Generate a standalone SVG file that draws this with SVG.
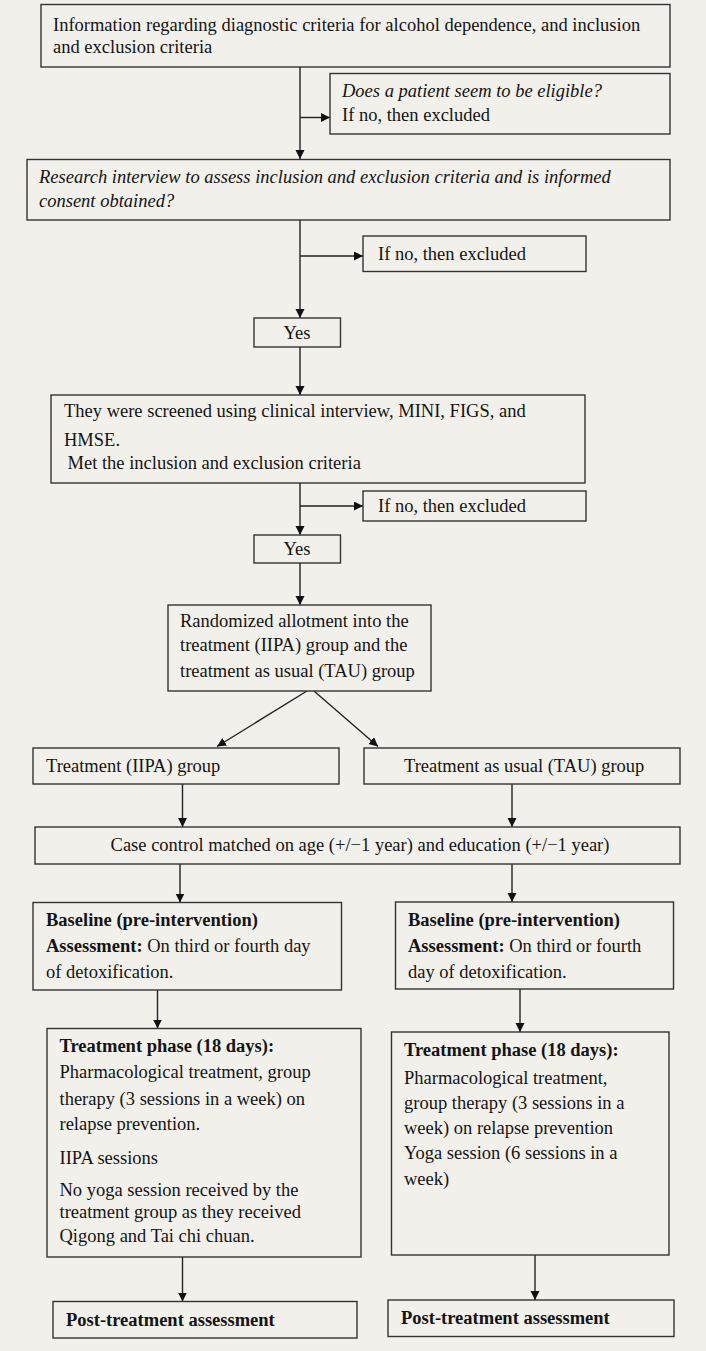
<svg xmlns="http://www.w3.org/2000/svg" width="706" height="1351" viewBox="0 0 706 1351">
<style>
.bx{fill:#f2f0eb;stroke:#333;stroke-width:1.4}
.t{font-family:"Liberation Serif","Times New Roman",serif;font-size:18.5px;fill:#141414}
.i{font-style:italic}
.b{font-weight:bold}
.c{stroke:#222;stroke-width:1.4;fill:none}
</style>
<defs>
<marker id="ah" markerUnits="userSpaceOnUse" markerWidth="10" markerHeight="10" refX="9" refY="4.5" orient="auto">
<path d="M0,0 L9,4.5 L0,9 z" fill="#111"/>
</marker>
</defs>
<rect width="706" height="1351" fill="#f2f0eb"/>

<g id="connectors">
<line class="c" x1="300" y1="67" x2="300" y2="159" marker-end="url(#ah)"/>
<line class="c" x1="300" y1="117.5" x2="330" y2="117.5" marker-end="url(#ah)"/>
<line class="c" x1="300" y1="220" x2="300" y2="318" marker-end="url(#ah)"/>
<line class="c" x1="300" y1="256" x2="363" y2="256" marker-end="url(#ah)"/>
<line class="c" x1="300" y1="347" x2="300" y2="395" marker-end="url(#ah)"/>
<line class="c" x1="300" y1="483" x2="300" y2="535" marker-end="url(#ah)"/>
<line class="c" x1="300" y1="506" x2="363" y2="506" marker-end="url(#ah)"/>
<line class="c" x1="300" y1="563" x2="300" y2="605" marker-end="url(#ah)"/>
<line class="c" x1="307" y1="691" x2="217" y2="746.5" marker-end="url(#ah)"/>
<line class="c" x1="314" y1="691" x2="378" y2="746.5" marker-end="url(#ah)"/>
<line class="c" x1="182.5" y1="784" x2="182.5" y2="827" marker-end="url(#ah)"/>
<line class="c" x1="512" y1="784" x2="512" y2="827" marker-end="url(#ah)"/>
<line class="c" x1="180" y1="864" x2="180" y2="902.5" marker-end="url(#ah)"/>
<line class="c" x1="512" y1="864" x2="512" y2="902" marker-end="url(#ah)"/>
<line class="c" x1="157.5" y1="990" x2="157.5" y2="1028.5" marker-end="url(#ah)"/>
<line class="c" x1="520" y1="989" x2="520" y2="1032" marker-end="url(#ah)"/>
<line class="c" x1="182.5" y1="1257" x2="182.5" y2="1301.5" marker-end="url(#ah)"/>
<line class="c" x1="535" y1="1255" x2="535" y2="1300" marker-end="url(#ah)"/>
</g>

<g id="info">
<rect class="bx" x="41" y="4.5" width="629" height="62.5"/>
<text class="t" x="53" y="31">Information regarding diagnostic criteria for alcohol dependence, and inclusion</text>
<text class="t" x="53" y="53">and exclusion criteria</text>
</g>

<g id="eligible">
<rect class="bx" x="330" y="73.5" width="340" height="60.5"/>
<text class="t i" x="342" y="97">Does a patient seem to be eligible?</text>
<text class="t" x="342" y="121">If no, then excluded</text>
</g>

<g id="interview">
<rect class="bx" x="27" y="159.5" width="643" height="60.5"/>
<text class="t i" x="39" y="183">Research interview to assess inclusion and exclusion criteria and is informed</text>
<text class="t i" x="39" y="207">consent obtained?</text>
</g>

<g id="excluded1">
<rect class="bx" x="363" y="236" width="223" height="35.5"/>
<text class="t" x="378" y="260">If no, then excluded</text>
</g>

<g id="yes1">
<rect class="bx" x="254" y="318" width="86.5" height="29"/>
<text class="t" x="297" y="339" text-anchor="middle">Yes</text>
</g>

<g id="screened">
<rect class="bx" x="51" y="395" width="534" height="88"/>
<text class="t" x="64" y="417">They were screened using clinical interview, MINI, FIGS, and</text>
<text class="t" x="64" y="446">HMSE.</text>
<text class="t" x="67.5" y="469">Met the inclusion and exclusion criteria</text>
</g>

<g id="excluded2">
<rect class="bx" x="363" y="491" width="223" height="30"/>
<text class="t" x="378" y="512">If no, then excluded</text>
</g>

<g id="yes2">
<rect class="bx" x="254" y="535" width="86.5" height="28"/>
<text class="t" x="297" y="555" text-anchor="middle">Yes</text>
</g>

<g id="randomized">
<rect class="bx" x="168" y="605" width="263" height="86"/>
<text class="t" x="180" y="627">Randomized allotment into the</text>
<text class="t" x="180" y="651">treatment (IIPA) group and the</text>
<text class="t" x="180" y="677">treatment as usual (TAU) group</text>
</g>

<g id="iipa">
<rect class="bx" x="33" y="748" width="306" height="36"/>
<text class="t" x="46" y="772">Treatment (IIPA) group</text>
</g>

<g id="tau">
<rect class="bx" x="364" y="748" width="316" height="36"/>
<text class="t" x="404" y="772">Treatment as usual (TAU) group</text>
</g>

<g id="casecontrol">
<rect class="bx" x="35" y="827" width="645" height="37"/>
<text class="t" x="360" y="851" text-anchor="middle">Case control matched on age (+/−1 year) and education (+/−1 year)</text>
</g>

<g id="baseline-left">
<rect class="bx" x="33" y="902.5" width="308.5" height="87.5"/>
<text class="t b" x="46" y="926">Baseline (pre-intervention)</text>
<text class="t" x="46" y="952"><tspan class="b">Assessment:</tspan> On third or fourth day</text>
<text class="t" x="46" y="977.5">of detoxification.</text>
</g>

<g id="baseline-right">
<rect class="bx" x="395.5" y="902" width="278" height="87"/>
<text class="t b" x="408" y="926">Baseline (pre-intervention)</text>
<text class="t" x="408" y="952"><tspan class="b">Assessment:</tspan> On third or fourth</text>
<text class="t" x="408" y="977.5">day of detoxification.</text>
</g>

<g id="treatment-left">
<rect class="bx" x="47" y="1028.5" width="314" height="228.5"/>
<text class="t b" x="59.5" y="1052">Treatment phase (18 days):</text>
<text class="t" x="59.5" y="1078">Pharmacological treatment, group</text>
<text class="t" x="59.5" y="1105">therapy (3 sessions in a week) on</text>
<text class="t" x="59.5" y="1130">relapse prevention.</text>
<text class="t" x="59.5" y="1164">IIPA sessions</text>
<text class="t" x="59.5" y="1196">No yoga session received by the</text>
<text class="t" x="59.5" y="1218">treatment group as they received</text>
<text class="t" x="59.5" y="1242">Qigong and Tai chi chuan.</text>
</g>

<g id="treatment-right">
<rect class="bx" x="391.5" y="1032" width="277.5" height="223"/>
<text class="t b" x="404" y="1055.5">Treatment phase (18 days):</text>
<text class="t" x="404" y="1084">Pharmacological treatment,</text>
<text class="t" x="404" y="1109">group therapy (3 sessions in a</text>
<text class="t" x="404" y="1134">week) on relapse prevention</text>
<text class="t" x="404" y="1159">Yoga session (6 sessions in a</text>
<text class="t" x="404" y="1185">week)</text>
</g>

<g id="post-left">
<rect class="bx" x="53" y="1301.5" width="304" height="36.5"/>
<text class="t b" x="66" y="1326">Post-treatment assessment</text>
</g>

<g id="post-right">
<rect class="bx" x="388" y="1300" width="286" height="36.5"/>
<text class="t b" x="401" y="1323.5">Post-treatment assessment</text>
</g>
</svg>
